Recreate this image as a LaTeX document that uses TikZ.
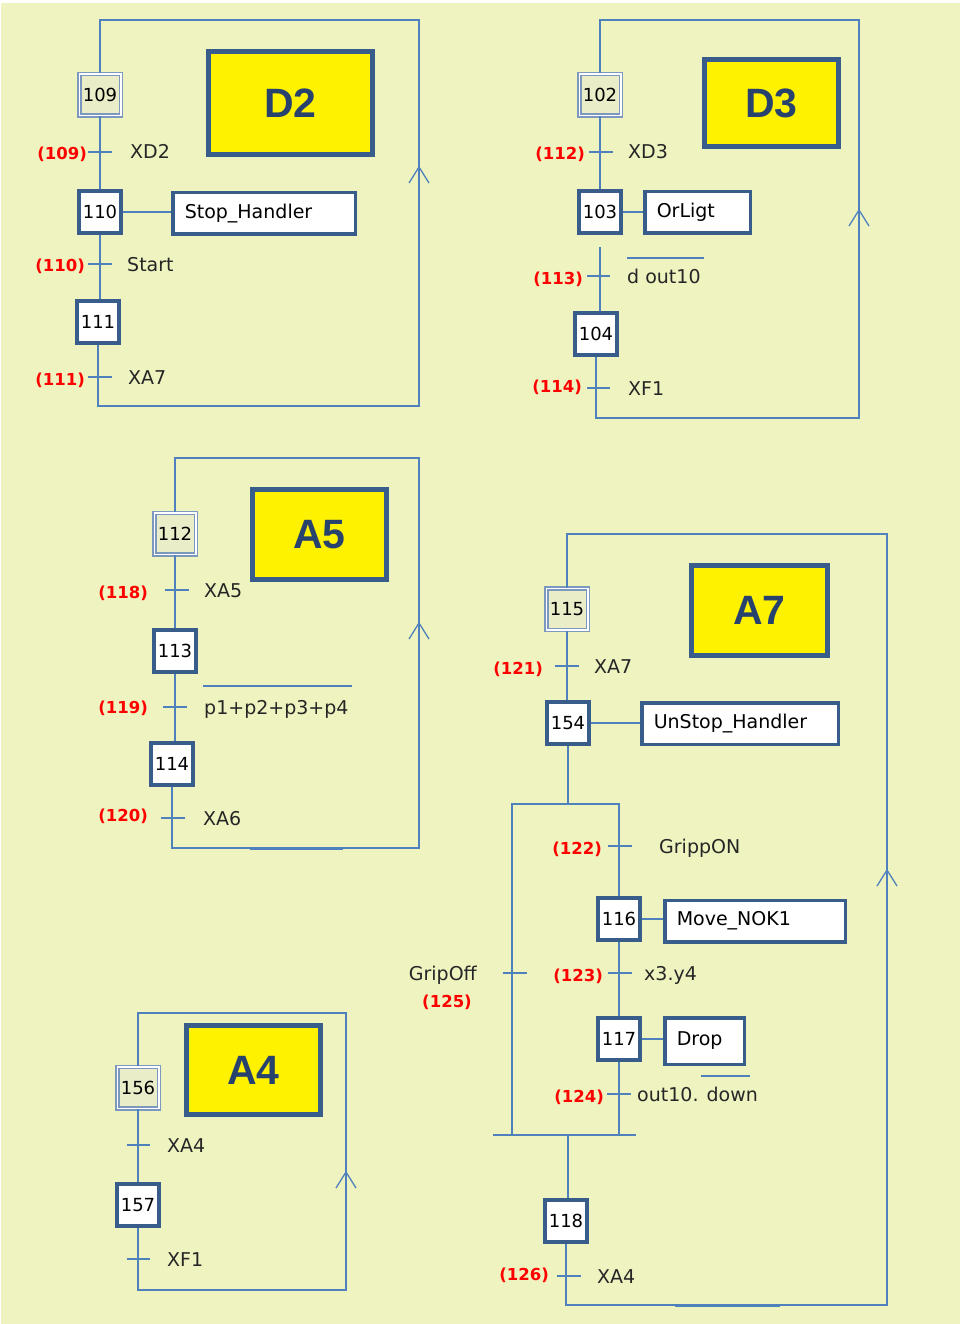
\documentclass[tikz,border=0pt]{standalone}
\usepackage{fontspec}
\setmainfont{DejaVu Sans}
\newfontfamily\titlefont{Liberation Sans}
\definecolor{bg}{RGB}{239,243,191}
\definecolor{wireblue}{RGB}{79,129,189}
\definecolor{boxblue}{RGB}{56,93,138}
\definecolor{initblue}{RGB}{125,152,190}
\definecolor{initfill}{RGB}{233,237,200}
\definecolor{titleblue}{RGB}{40,66,110}
\newcommand\upchev[2]{\draw[wire] (#1-10,#2+16) -- (#1,#2) -- (#1+10,#2+16);}

\begin{document}
\begin{tikzpicture}[x=1pt,y=-1pt,
  wire/.style={draw=wireblue, line width=1.3pt},
  stp/.style={draw=boxblue, line width=4pt, fill=white, minimum size=42pt, inner sep=0pt, font=\fontsize{18}{21}\selectfont},
  initstp/.style={draw=initblue, double=white, double distance=1.5pt, line width=1.5pt, fill=initfill, minimum size=41.5pt, inner sep=0pt, font=\fontsize{18}{21}\selectfont},
  act/.style={draw=boxblue, line width=3.5pt, fill=white, minimum height=41.5pt, inner xsep=12pt, text width=#1, align=left, font=\fontsize{19}{22}\selectfont},
  grafbox/.style={draw=boxblue, line width=5pt, fill=yellow, inner sep=0pt, text=titleblue, font=\titlefont\bfseries\fontsize{41}{46}\selectfont},
  tnum/.style={anchor=east, inner sep=0pt, text height=12pt, text depth=0pt, text=red, font=\bfseries\fontsize{16.5}{19}\selectfont},
  rcv/.style={anchor=west, inner sep=0pt, text height=14pt, text depth=0pt, text=black!85, font=\fontsize{19}{22}\selectfont},
]
\useasboundingbox (0,0) rectangle (960,1324);
\fill[bg] (1,3) rectangle (960,1324);

% D2
\node[initstp] (s109) at (100,95) {109};
\node[stp] (s110) at (100,212) {110};
\node[stp] (s111) at (98,322) {111};
\node[act=158.5pt] (a110) at (264,213.5) {Stop\_Handler};
\node[grafbox, minimum width=164pt, minimum height=103pt] (gD2) at (290.5,103) {D2};
\draw[wire] (s109.south) -- (s110.north);
\draw[wire] (s110.south) -- (s110.south |- s111.north);
\draw[wire] (s110.east) -- (s110.east -| a110.west);
\draw[wire] (s111.south) |- (419,406) -- (419,20) -| (s109.north);
\upchev{419}{167}
\foreach \y in {152,264,377} \draw[wire] (88,\y) -- (112,\y);
\node[tnum] (n109) at (87,154) {(109)};
\node[rcv] (c109) at (130,152) {XD2};
\node[tnum] (n110) at (85,266) {(110)};
\node[rcv] (c110) at (127,264) {Start};
\node[tnum] (n111) at (85,379) {(111)};
\node[rcv] (c111) at (128,377) {XA7};

% D3
\node[initstp] (s102) at (600,95) {102};
\node[stp] (s103) at (600,212) {103};
\node[stp] (s104) at (596,334) {104};
\node[act=81.5pt] (a103) at (697.5,212.5) {OrLigt};
\node[grafbox, minimum width=134pt, minimum height=87pt] (gD3) at (771.5,103) {D3};
\draw[wire] (s102.south) -- (s103.north);
\draw[wire] ([yshift=-12pt]s103.south) -- (s103.south |- s104.north);
\draw[wire] (s103.east) -- (s103.east -| a103.west);
\draw[wire] (s104.south) |- (859,418) -- (859,20) -| (s102.north);
\upchev{859}{210}
\draw[wire] (589,152) -- (613,152);
\foreach \y in {276,388} \draw[wire] (587,\y) -- (610,\y);
\node[tnum] (n112) at (585,154) {(112)};
\node[rcv] (c112) at (628,152) {XD3};
\node[tnum] (n113) at (583,278) {(113)};
\node[rcv] (c113) at (627,276) {d out10};
\draw[wire] (627,258) -- (704,258);
\node[tnum] (n114) at (582,386) {(114)};
\node[rcv] (c114) at (628,388) {XF1};

% A5
\node[initstp] (s112) at (175,533.5) {112};
\node[stp] (s113) at (175,650.5) {113};
\node[stp] (s114) at (172,763.5) {114};
\node[grafbox, minimum width=134pt, minimum height=90pt] (gA5) at (319.5,534.5) {A5};
\draw[wire] (s112.south) -- (s113.north);
\draw[wire] (s113.south) -- (s113.south |- s114.north);
\draw[wire] (s114.south) |- (419,848) -- (419,458) -| (s112.north);
\draw[wireblue, line width=3pt] (250,848) -- (343,848);
\upchev{419}{623}
\foreach \x/\y in {176.5/590, 174.5/707, 172.5/818} \draw[wire] (\x-12,\y) -- (\x+12,\y);
\node[tnum] (n118) at (148,592) {(118)};
\node[rcv] (c118) at (204,590) {XA5};
\node[tnum] (n119) at (148,707) {(119)};
\node[rcv] (c119) at (204,707) {p1+p2+p3+p4};
\draw[wire] (203,686) -- (352,686);
\node[tnum] (n120) at (148,815) {(120)};
\node[rcv] (c120) at (203,818) {XA6};

% A7
\node[initstp] (s115) at (567,609) {115};
\node[stp] (s154) at (568,723) {154};
\node[stp] (s116) at (619,919) {116};
\node[stp] (s117) at (619,1039) {117};
\node[stp] (s118) at (566,1221) {118};
\node[act=172.5pt] (a154) at (740,723.5) {UnStop\_Handler};
\node[act=156.5pt] (a116) at (755,921) {Move\_NOK1};
\node[act=55.5pt, minimum height=46.5pt] (a117) at (704.5,1041) {Drop};
\node[grafbox, minimum width=136pt, minimum height=90pt] (gA7) at (759.5,610.5) {A7};
\coordinate (div) at (568,804);
\coordinate (conv) at (568,1135);
\draw[wire] (s115.south) -- (s115.south |- s154.north);
\draw[wire] (s154.south) -- (div);
\draw[wire] (s116.north) |- (div) -| (512,1135);
\draw[wire] (s116.south) -- (s117.north);
\draw[wire] (s117.south) -- (s117.south |- conv);
\draw[wire] (493,1135) -- (636,1135);
\draw[wire] (conv) -- (conv |- s118.north);
\draw[wire] (s154.east) -- (s154.east -| a154.west);
\draw[wire] (s116.east) -- (s116.east -| a116.west);
\draw[wire] (s117.east) -- (s117.east -| a117.west);
\draw[wire] (s118.south) |- (887,1305) -- (887,534) -| (s115.north);
\draw[wireblue, line width=3pt] (675,1305) -- (780,1305);
\upchev{887}{870}
\foreach \x/\y in {566.5/666, 620/846, 620/973, 619/1094, 568.5/1276, 514.5/973} \draw[wire] (\x-12,\y) -- (\x+12,\y);
\node[tnum] (n121) at (543,668) {(121)};
\node[rcv] (c121) at (594,666) {XA7};
\node[tnum] (n122) at (602,848) {(122)};
\node[rcv] (c122) at (659,846) {GrippON};
\node[tnum] (n123) at (603,975) {(123)};
\node[rcv] (c123) at (644,973) {x3.y4};
\node[tnum] (n124) at (604,1096) {(124)};
\node[rcv] (c124) at (637,1094) {out10. down};
\draw[wire] (701,1076) -- (750,1076);
\node[tnum] (n126) at (549,1274) {(126)};
\node[rcv] (c126) at (597,1276) {XA4};
\node[rcv, anchor=east] (c125) at (477,973) {GripOff};
\node[tnum, anchor=center] (n125) at (447,1001) {(125)};

% A4
\node[initstp] (s156) at (138,1087.5) {156};
\node[stp] (s157) at (138,1205) {157};
\node[grafbox, minimum width=134pt, minimum height=89pt] (gA4) at (253.5,1070) {A4};
\draw[wire] (s156.south) -- (s157.north);
\draw[wire] (s157.south) |- (346,1290) -- (346,1013) -| (s156.north);
\upchev{346}{1172}
\foreach \y in {1145,1259} \draw[wire] (127,\y) -- (150,\y);
\node[rcv] (c156) at (167,1145) {XA4};
\node[rcv] (c157) at (167,1259) {XF1};
\end{tikzpicture}
\end{document}
